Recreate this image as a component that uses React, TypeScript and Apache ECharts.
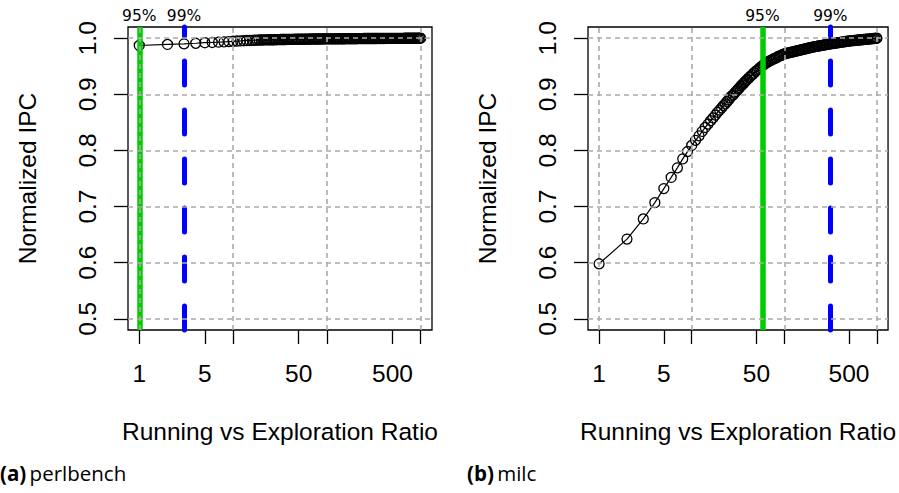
import React, { useEffect, useRef } from "react";
import * as echarts from "echarts";

// Running vs exploration ratio (sampled ratios, shared by both panels)
const RATIO = [
  1, 2, 3, 4, 5, 6, 7, 8, 9, 10,
  11, 12, 13, 14, 15, 16, 17, 18, 19, 20,
  21, 22, 23, 24, 25, 26, 27, 28, 29, 30,
  31, 32, 33, 34, 35, 36, 37, 38, 39, 40,
  42, 43, 45, 47, 49, 51, 53, 55, 57, 59, 61, 63, 65, 67, 70, 73, 76, 79, 82, 85, 88, 91, 94, 97, 100,
  104, 108, 112, 116, 120, 124, 128,
  133, 138, 143, 148, 153, 158,
  164, 170, 176, 182, 188,
  195, 202, 209, 216,
  224, 232, 240, 248,
  257, 266, 275,
  285, 295, 305,
  316, 327, 338,
  350, 362, 375, 388,
  402, 416, 430, 445,
  461, 477, 494,
  511, 529, 548, 567, 587,
  607, 628, 650, 673, 697,
  721, 746, 772, 799,
  827, 856, 886, 917, 949, 982, 1000,
];

// Normalized IPC, (a) perlbench
const PERL_IPC = [
  0.987, 0.989, 0.99, 0.991, 0.992, 0.9925, 0.993, 0.9935, 0.994, 0.9945,
  0.995, 0.9953, 0.9956, 0.9959, 0.996, 0.9962, 0.9964, 0.9966, 0.9967, 0.9968,
  0.9969, 0.997, 0.9971, 0.9972, 0.9972, 0.9973, 0.9973, 0.9974, 0.9974, 0.9975,
  0.9975, 0.9976, 0.9976, 0.9977, 0.9977, 0.9978, 0.9978, 0.9979, 0.9979, 0.998,
  0.998, 0.998, 0.9981, 0.9981, 0.9982, 0.9982, 0.9982, 0.9983, 0.9983, 0.9983, 0.9984, 0.9984, 0.9984, 0.9985, 0.9985, 0.9985, 0.9986, 0.9986, 0.9986, 0.9987, 0.9987, 0.9987, 0.9988, 0.9988, 0.9988,
  0.9988, 0.9988, 0.9989, 0.9989, 0.9989, 0.9989, 0.9989,
  0.999, 0.999, 0.999, 0.999, 0.999, 0.9991,
  0.9991, 0.9991, 0.9991, 0.9992, 0.9992,
  0.9992, 0.9992, 0.9992, 0.9993,
  0.9993, 0.9993, 0.9993, 0.9994,
  0.9994, 0.9994, 0.9994,
  0.9995, 0.9995, 0.9995,
  0.9995, 0.9995, 0.9995,
  0.9996, 0.9996, 0.9996, 0.9996,
  0.9996, 0.9996, 0.9997, 0.9997,
  0.9997, 0.9997, 0.9997,
  0.9997, 0.9998, 0.9998, 0.9998, 0.9998,
  0.9998, 0.9998, 0.9998, 0.9999, 0.9999,
  0.9999, 0.9999, 0.9999, 0.9999,
  0.9999, 1.0, 1.0, 1.0, 1.0, 1.0, 1.0,
];

// Normalized IPC, (b) milc
const MILC_IPC = [
  0.598, 0.642, 0.678, 0.707, 0.732, 0.752, 0.769, 0.785, 0.798, 0.809,
  0.818, 0.826, 0.834, 0.841, 0.847, 0.853, 0.858, 0.863, 0.868, 0.872,
  0.876, 0.88, 0.883, 0.887, 0.89, 0.894, 0.897, 0.899, 0.902, 0.905,
  0.907, 0.91, 0.912, 0.915, 0.917, 0.919, 0.921, 0.923, 0.925, 0.927,
  0.93, 0.932, 0.935, 0.938, 0.941, 0.943, 0.945, 0.948, 0.95, 0.952, 0.954, 0.955, 0.957, 0.958, 0.96, 0.961, 0.963, 0.964, 0.965, 0.967, 0.968, 0.969, 0.97, 0.971, 0.972,
  0.9727, 0.9733, 0.974, 0.9746, 0.9752, 0.9757, 0.9763,
  0.977, 0.9776, 0.9782, 0.9788, 0.9794, 0.98,
  0.9806, 0.9812, 0.9818, 0.9824, 0.983,
  0.9836, 0.9841, 0.9846, 0.985,
  0.9855, 0.986, 0.9864, 0.9868,
  0.9873, 0.9878, 0.9882,
  0.9886, 0.9891, 0.9895,
  0.99, 0.9904, 0.9907,
  0.9911, 0.9915, 0.9919, 0.9922,
  0.9926, 0.993, 0.9933, 0.9937,
  0.9941, 0.9945, 0.9949,
  0.9951, 0.9954, 0.9957, 0.9959, 0.9962,
  0.9964, 0.9967, 0.9969, 0.9971, 0.9974,
  0.9976, 0.9979, 0.9981, 0.9984,
  0.9986, 0.9989, 0.9991, 0.9994, 0.9996, 0.9999, 1.0,
];

// Threshold ratios (95%, 99%)
const PERL_MARKS = [1, 3];
const MILC_MARKS = [58, 314];
const MARK_LABELS = ["95%", "99%"];

const X_TICKS = [1, 5, 10, 50, 100, 500, 1000];
const X_LABELS = [1, 5, 50, 500];
const X_GRID = [1, 10, 100, 1000];
const Y_TICKS = [0.5, 0.6, 0.7, 0.8, 0.9, 1.0];

const X_TITLE = "Running vs Exploration Ratio";
const Y_TITLE = "Normalized IPC";
const CAPTIONS = [
  { tag: "(a)", name: "perlbench" },
  { tag: "(b)", name: "milc" },
];

const FONT = "'Liberation Sans', Arial, sans-serif";
const FS = 24.5;

export default function App() {
  const ref = useRef<HTMLDivElement>(null);

  useEffect(() => {
    if (!ref.current) return;
    const chart = echarts.init(ref.current, undefined, { renderer: "svg" });

    const panels = [
      { left: 128, ipc: PERL_IPC, marks: PERL_MARKS },
      { left: 588, ipc: MILC_IPC, marks: MILC_MARKS },
    ];

    const grids: any[] = [];
    const xAxes: any[] = [];
    const yAxes: any[] = [];
    const series: any[] = [];

    panels.forEach((p, i) => {
      grids.push({
        left: p.left,
        top: 27,
        width: 304,
        height: 303,
        show: true,
        borderColor: "#000",
        borderWidth: 1.3,
        backgroundColor: "transparent",
      });
      xAxes.push({
        type: "log",
        logBase: 10,
        gridIndex: i,
        min: 0.7586,
        max: 1318.3,
        axisLine: { show: false },
        splitLine: { show: false },
        axisTick: {
          show: true,
          length: 14,
          customValues: X_TICKS,
          lineStyle: { color: "#000", width: 1.3 },
        },
        axisLabel: {
          customValues: X_LABELS,
          margin: 31,
          fontSize: FS,
          fontFamily: FONT,
          color: "#000",
          formatter: (v: number) => String(Math.round(v)),
        },
        name: X_TITLE,
        nameLocation: "middle",
        nameGap: 89,
        nameTextStyle: { fontSize: FS, fontFamily: FONT, color: "#000" },
      });
      yAxes.push({
        type: "value",
        gridIndex: i,
        min: 0.48,
        max: 1.02,
        axisLine: { show: false },
        splitLine: { show: false },
        axisTick: {
          show: true,
          length: 14,
          customValues: Y_TICKS,
          lineStyle: { color: "#000", width: 1.3 },
        },
        axisLabel: {
          customValues: Y_TICKS,
          rotate: 90,
          margin: 28,
          fontSize: FS,
          fontFamily: FONT,
          color: "#000",
          formatter: (v: number) => v.toFixed(1),
        },
        name: Y_TITLE,
        nameLocation: "middle",
        nameRotate: 90,
        nameGap: 88,
        nameTextStyle: { fontSize: FS, fontFamily: FONT, color: "#000" },
      });

      series.push({
        type: "line",
        xAxisIndex: i,
        yAxisIndex: i,
        data: RATIO.map((r, k) => [r, p.ipc[k]]),
        symbol: "circle",
        symbolSize: 10,
        showAllSymbol: true,
        itemStyle: { color: "rgba(0,0,0,0)", borderColor: "#000", borderWidth: 1.3 },
        lineStyle: { color: "#000", width: 1.2 },
        z: 2,
        silent: true,
      });

      series.push({
        type: "line",
        xAxisIndex: i,
        yAxisIndex: i,
        data: [],
        z: 3,
        silent: true,
        markLine: {
          silent: true,
          symbol: ["none", "none"],
          animation: false,
          label: {
            show: true,
            position: "end",
            distance: 3,
            color: "#000",
            fontSize: 15.5,
            fontFamily: "'DejaVu Sans', sans-serif",
          },
          data: [
            {
              xAxis: p.marks[0],
              label: { formatter: MARK_LABELS[0] },
              lineStyle: { color: "#00CD00", width: 5.5, type: "solid", cap: "butt" },
            },
            {
              xAxis: p.marks[1],
              label: { formatter: MARK_LABELS[1] },
              lineStyle: { color: "#0000FF", width: 5, type: [24, 25], cap: "round" },
            },
          ],
        },
      });

      series.push({
        type: "line",
        xAxisIndex: i,
        yAxisIndex: i,
        data: [],
        z: 4,
        silent: true,
        markLine: {
          silent: true,
          symbol: ["none", "none"],
          animation: false,
          label: { show: false },
          lineStyle: { color: "#ababab", width: 1.6, type: [5, 4] },
          data: [
            ...X_GRID.map((v) => ({ xAxis: v })),
            ...Y_TICKS.map((v) => ({ yAxis: v })),
          ],
        },
      });
    });

    chart.setOption({
      animation: false,
      backgroundColor: "#fff",
      grid: grids,
      xAxis: xAxes,
      yAxis: yAxes,
      series,
      graphic: CAPTIONS.map((c, i) => ({
        type: "text",
        left: i === 0 ? 0 : 467,
        top: 462,
        style: {
          text: `{b|${c.tag}} {r|${c.name}}`,
          rich: {
            b: { fontSize: 20.5, fontWeight: "bold", fontFamily: "'Open Sans', sans-serif", fill: "#000" },
            r: { fontSize: 20.5, fontFamily: "'Open Sans', sans-serif", fill: "#000" },
          },
        },
      })),
    });

    return () => chart.dispose();
  }, []);

  return (
    <div
      ref={ref}
      style={{ position: "fixed", left: 0, top: 0, width: 899, height: 493 }}
    />
  );
}
